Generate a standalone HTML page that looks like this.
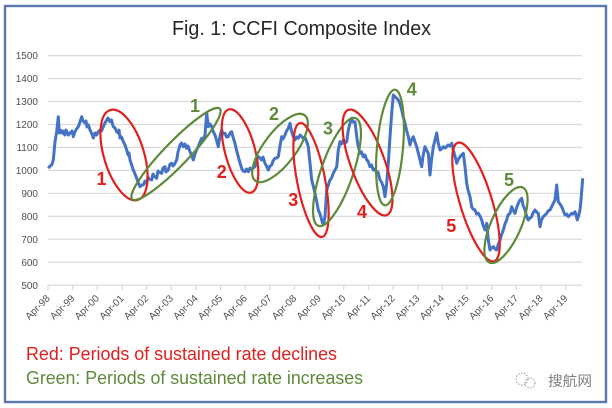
<!DOCTYPE html>
<html><head><meta charset="utf-8"><style>
html,body{margin:0;padding:0;background:#fff;}
svg{display:block;}
</style></head><body>
<svg width="612" height="408" viewBox="0 0 612 408" xmlns="http://www.w3.org/2000/svg" font-family="'Liberation Sans', sans-serif">
<rect x="0" y="0" width="612" height="408" fill="#fff"/>
<rect x="5" y="6" width="601" height="396" fill="#fff" stroke="#5a78ae" stroke-width="2.4"/>
<text x="172" y="35" font-size="20" fill="#262626" textLength="259" lengthAdjust="spacingAndGlyphs">Fig. 1: CCFI Composite Index</text>
<g stroke="#d9d9d9" stroke-width="1.2">
<line x1="48" y1="55.6" x2="582" y2="55.6"/>
<line x1="48" y1="78.6" x2="582" y2="78.6"/>
<line x1="48" y1="101.5" x2="582" y2="101.5"/>
<line x1="48" y1="124.5" x2="582" y2="124.5"/>
<line x1="48" y1="147.4" x2="582" y2="147.4"/>
<line x1="48" y1="170.4" x2="582" y2="170.4"/>
<line x1="48" y1="193.3" x2="582" y2="193.3"/>
<line x1="48" y1="216.3" x2="582" y2="216.3"/>
<line x1="48" y1="239.2" x2="582" y2="239.2"/>
<line x1="48" y1="262.2" x2="582" y2="262.2"/>
<line x1="48" y1="285.2" x2="582" y2="285.2"/>
</g>
<g stroke="#d9d9d9" stroke-width="1.2">
<line x1="48" y1="285" x2="48" y2="290"/><line x1="72.7" y1="285" x2="72.7" y2="290"/><line x1="97.3" y1="285" x2="97.3" y2="290"/><line x1="122" y1="285" x2="122" y2="290"/><line x1="146.6" y1="285" x2="146.6" y2="290"/><line x1="171.3" y1="285" x2="171.3" y2="290"/><line x1="195.9" y1="285" x2="195.9" y2="290"/><line x1="220.6" y1="285" x2="220.6" y2="290"/><line x1="245.2" y1="285" x2="245.2" y2="290"/><line x1="269.9" y1="285" x2="269.9" y2="290"/><line x1="294.5" y1="285" x2="294.5" y2="290"/><line x1="319.2" y1="285" x2="319.2" y2="290"/><line x1="343.8" y1="285" x2="343.8" y2="290"/><line x1="368.5" y1="285" x2="368.5" y2="290"/><line x1="393.1" y1="285" x2="393.1" y2="290"/><line x1="417.8" y1="285" x2="417.8" y2="290"/><line x1="442.4" y1="285" x2="442.4" y2="290"/><line x1="467.1" y1="285" x2="467.1" y2="290"/><line x1="491.7" y1="285" x2="491.7" y2="290"/><line x1="516.4" y1="285" x2="516.4" y2="290"/><line x1="541" y1="285" x2="541" y2="290"/><line x1="565.7" y1="285" x2="565.7" y2="290"/>
</g>
<g font-size="10" fill="#505050" text-anchor="end">
<text x="38" y="59.2">1500</text>
<text x="38" y="82.2">1400</text>
<text x="38" y="105.1">1300</text>
<text x="38" y="128.1">1200</text>
<text x="38" y="151">1100</text>
<text x="38" y="174">1000</text>
<text x="38" y="196.9">900</text>
<text x="38" y="219.9">800</text>
<text x="38" y="242.8">700</text>
<text x="38" y="265.8">600</text>
<text x="38" y="288.8">500</text>
</g>
<g font-size="10" fill="#505050" text-anchor="end">
<text transform="translate(50.5,299) rotate(-45)">Apr-98</text>
<text transform="translate(75.2,299) rotate(-45)">Apr-99</text>
<text transform="translate(99.8,299) rotate(-45)">Apr-00</text>
<text transform="translate(124.5,299) rotate(-45)">Apr-01</text>
<text transform="translate(149.1,299) rotate(-45)">Apr-02</text>
<text transform="translate(173.8,299) rotate(-45)">Apr-03</text>
<text transform="translate(198.4,299) rotate(-45)">Apr-04</text>
<text transform="translate(223.1,299) rotate(-45)">Apr-05</text>
<text transform="translate(247.7,299) rotate(-45)">Apr-06</text>
<text transform="translate(272.4,299) rotate(-45)">Apr-07</text>
<text transform="translate(297,299) rotate(-45)">Apr-08</text>
<text transform="translate(321.7,299) rotate(-45)">Apr-09</text>
<text transform="translate(346.3,299) rotate(-45)">Apr-10</text>
<text transform="translate(371,299) rotate(-45)">Apr-11</text>
<text transform="translate(395.6,299) rotate(-45)">Apr-12</text>
<text transform="translate(420.3,299) rotate(-45)">Apr-13</text>
<text transform="translate(444.9,299) rotate(-45)">Apr-14</text>
<text transform="translate(469.6,299) rotate(-45)">Apr-15</text>
<text transform="translate(494.2,299) rotate(-45)">Apr-16</text>
<text transform="translate(518.9,299) rotate(-45)">Apr-17</text>
<text transform="translate(543.5,299) rotate(-45)">Apr-18</text>
<text transform="translate(568.2,299) rotate(-45)">Apr-19</text>
</g>
<polyline fill="none" stroke="#4472c4" stroke-width="3" stroke-linejoin="round" points="48.3,168.3 50,166 51.7,165 53.3,160 55,141.7 56.7,131.7 58.3,116.7 59.3,133 60.5,130 61.7,133 63,131 64,134 65,135 66,130 67,132 68.5,135 70,133 72,131 73.3,136.7 75,131.7 76.5,129 78.3,126.7 80,122 81.7,116.7 83,121 85,123 86,121 87,127 88.5,125 90,130 92,134 93.3,138 95,133 96.7,135 98,132 100,130 101.5,131 103.3,126.7 105,123 106.7,120 108,118 110,121.7 111.5,120 113.3,126.7 115,128 116.7,131.7 118,133 119,130 120,138 121.5,137 123.3,141.7 125,145 126.7,150 128,155 129,153 130,160 132,166 133.3,170 135,174 136.7,178.3 138,182 140,186.7 141.5,185 143.3,185 145,181 146.7,183.3 148,177 149,179 151.7,180 153,174 154,176 156.7,178.3 158,171 159,172 161.7,173.3 163,168 165,166.7 166,172 167,171 168.3,170 170,164 171.7,163.3 173,166 174,165 176.7,160 178,152 180,145 181.5,143 183.3,146.7 185,144 186.7,148.3 188,146 190,151.7 191.5,155 193.3,160 195,154 196.5,150 198.3,146.7 200,142 201.7,138.3 203,140 205,135 206.7,113.3 208.3,126.7 210,124 211.7,126.7 213,131 215,135 216.5,140 218.3,146.7 220,136 221.7,130 223,134 225,133.3 226.5,137 228.3,136.7 230,133 231.7,131.7 233,137 235,143.3 236.5,150 238.3,156.7 240,163 241.7,168.3 243,171 245,171.7 246.5,169 248.3,171.7 250,168 251.7,170 253,168 255,166.7 256.5,160 258.3,156.7 260,158 261.7,160 263,157 265,163.3 266.5,166 268.3,170 270,166 271.7,165 273,161 275,158.3 276.5,158 278.3,156.7 280,146 281.7,136.7 283,139 285,135 286.5,131 288.3,128.3 290,123.3 291.7,131.7 293,136 295,140 296.5,137 298.3,138.3 300,135 301.7,136.7 303,138 305,137.5 306.5,141 308.3,146.7 310,163.3 311.7,180 313.5,187 315,193.3 317,203 318.3,210 320,214 321.7,220 323.3,225 325,216.7 326.7,190 328,186 330,180 331.5,178 333.3,173.3 335,170 336.7,166.7 338.3,150 340,141.7 341.5,144 343.3,140 345,143 346.7,141.7 348.3,130 350,123.3 351.7,118.3 353,122 355,121.7 356.7,136.7 358,145 360,153.3 361.5,152 363.3,156.7 365,155 366.7,160 368,161 370,166.7 371.5,165 373.3,170 375,169 376.7,173.3 378,172 380,180 381.5,182 383.3,186.7 385,196.7 386.7,183.3 388.3,163.3 390,136.7 391.7,113.3 393.3,95 395,96.7 396.5,98 398.3,100 400,104 401.7,110 403,116 405,123.3 406.5,130 408.3,136.7 410,145 411.5,140 413.3,136.7 415,142 416.7,146.7 418,152 420,160 421.7,166.7 423,156 425,146.7 426.5,150 428.3,153.3 430,175 431.5,160 433.3,146.7 435,140 436.7,133 438,142 440,150 441.5,149 443.3,146.7 445,148 446.7,146.7 448,145 450,146 451.7,143.3 453.3,150 455,156 456.7,163.3 458,160 460,156.7 461.5,155 463.3,153.3 465,166.7 466.7,183.3 468,190 470,196.7 471.7,206.7 473,209 475,210 476.5,214 478.3,213.3 480,216 481.7,220 483,225 485,230 486.7,223.3 488.3,240 490,250 491.5,248 493.3,246.7 495,249 496.7,250 498,245 500,240 501.5,235 503.3,230 505,224 506.7,220 508,215 510,213.3 511.7,206.7 513,210 515,213.3 516.5,208 518.3,203.3 520,200 521.7,198.3 523,205 525,210 526.5,216 528.3,220 530,218 531.7,216.7 533,213 535,210 536.5,212 538.3,213.3 540,226.7 541.5,220 543.3,216.7 545,215 546.7,213.3 548,211 550,210 551.5,207 553.3,203.3 555,200 556.7,185 558.3,201.7 560,204 561.7,206.7 563,210 565,215 566.5,214 568.3,216.7 570,215 571.7,213.3 573,214 575,211.7 576,215 577.3,220 578.5,216 580,210 581,200 582.7,178.3"/>
<g fill="none" stroke-width="2.2">
<ellipse cx="124" cy="155" rx="20" ry="47" transform="rotate(-17 124 155)" stroke="#e0201e"/>
<ellipse cx="176" cy="154" rx="63" ry="12" transform="rotate(-46 176 154)" stroke="#5e8a3a"/>
<ellipse cx="240" cy="151" rx="15" ry="43" transform="rotate(-15 240 151)" stroke="#e0201e"/>
<ellipse cx="280" cy="148" rx="41" ry="16" transform="rotate(-53 280 148)" stroke="#5e8a3a"/>
<ellipse cx="311" cy="180" rx="14" ry="58" transform="rotate(-11 311 180)" stroke="#e0201e"/>
<ellipse cx="337" cy="172" rx="16" ry="57" transform="rotate(19 337 172)" stroke="#5e8a3a"/>
<ellipse cx="367.5" cy="162.5" rx="17" ry="56" transform="rotate(-20 367.5 162.5)" stroke="#e0201e"/>
<ellipse cx="390" cy="147.5" rx="13" ry="58" transform="rotate(5 390 147.5)" stroke="#5e8a3a"/>
<ellipse cx="476" cy="202" rx="16" ry="62" transform="rotate(-17 476 202)" stroke="#e0201e"/>
<ellipse cx="506" cy="225" rx="15" ry="41" transform="rotate(24 506 225)" stroke="#5e8a3a"/>
</g>
<g font-size="18" font-weight="bold" text-anchor="middle">
<text x="101.5" y="185" fill="#e0201e">1</text>
<text x="195" y="112" fill="#5e8a3a">1</text>
<text x="221.7" y="178" fill="#e0201e">2</text>
<text x="274" y="120" fill="#5e8a3a">2</text>
<text x="293.3" y="206" fill="#e0201e">3</text>
<text x="328" y="134.5" fill="#5e8a3a">3</text>
<text x="362" y="218" fill="#e0201e">4</text>
<text x="411.7" y="95.5" fill="#5e8a3a">4</text>
<text x="451.3" y="232" fill="#e0201e">5</text>
<text x="509" y="186" fill="#5e8a3a">5</text>
</g>
<text x="26" y="360" font-size="18" fill="#e0201e" textLength="311" lengthAdjust="spacingAndGlyphs">Red: Periods of sustained rate declines</text>
<text x="26" y="384" font-size="18" fill="#5e8a3a" textLength="337" lengthAdjust="spacingAndGlyphs">Green: Periods of sustained rate increases</text>
<g stroke="#9a9a9a" stroke-width="1" fill="none" stroke-dasharray="1.5,1.5">
<circle cx="522" cy="379" r="6"/>
<circle cx="530" cy="383" r="5"/>
</g>
<text x="548" y="386" font-size="14" fill="#808080" font-family="'Liberation Sans','Noto Sans CJK SC',sans-serif" textLength="44" lengthAdjust="spacingAndGlyphs">搜航网</text>
</svg>
</body></html>
